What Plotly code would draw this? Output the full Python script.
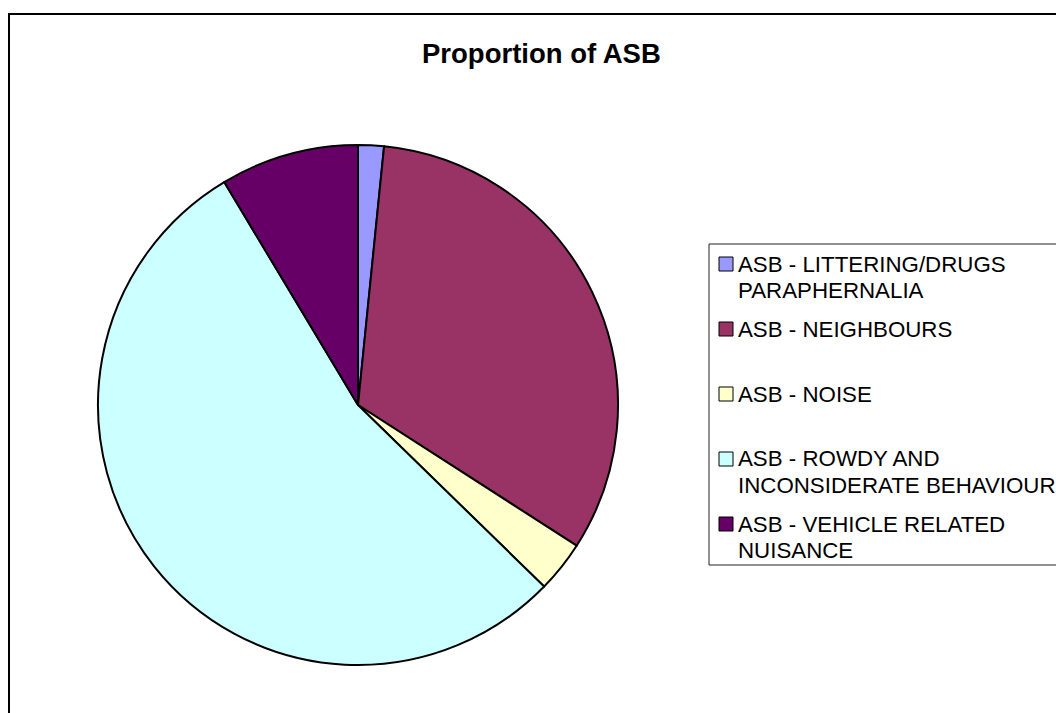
import plotly.graph_objects as go

# Share of anti-social behaviour reports by type (%)
labels = [
    "ASB - LITTERING/DRUGS<br>PARAPHERNALIA",
    "ASB - NEIGHBOURS",
    "ASB - NOISE",
    "ASB - ROWDY AND<br>INCONSIDERATE BEHAVIOUR",
    "ASB - VEHICLE RELATED<br>NUISANCE",
]
values = [1.6, 32.5, 3.2, 54.1, 8.6]
colors = ["#9999FF", "#993366", "#FFFFCC", "#CCFFFF", "#660066"]

W, H = 1056, 713
FONT = "Liberation Sans, Arial, sans-serif"


def px_x(x):
    return x / W


def px_y(y):
    return 1 - y / H


# pie centre and radius in pixels
cx, cy, r = 358, 405, 260

fig = go.Figure(
    go.Pie(
        labels=[lab.replace("<br>", " ") for lab in labels],
        values=values,
        marker=dict(colors=colors, line=dict(color="#000000", width=2)),
        sort=False,
        direction="clockwise",
        rotation=0,
        textinfo="none",
        showlegend=False,
        domain=dict(x=[px_x(cx - r), px_x(cx + r)], y=[px_y(cy + r), px_y(cy - r)]),
    )
)

shapes = [
    # outer chart frame
    dict(type="rect", xref="paper", yref="paper",
         x0=px_x(9), x1=px_x(W + 20), y0=px_y(H + 20), y1=px_y(14),
         line=dict(color="#000000", width=2), fillcolor="rgba(0,0,0,0)"),
    # legend box
    dict(type="rect", xref="paper", yref="paper",
         x0=px_x(709), x1=px_x(W + 20), y0=px_y(565), y1=px_y(244),
         line=dict(color="#222222", width=1), fillcolor="rgba(0,0,0,0)"),
]

annotations = []
first_line = 264
slot = 65
line_gap = 26.5
for i, (lab, col) in enumerate(zip(labels, colors)):
    yc = first_line + i * slot
    shapes.append(dict(type="rect", xref="paper", yref="paper",
                       x0=px_x(719), x1=px_x(733), y0=px_y(yc + 7), y1=px_y(yc - 7),
                       line=dict(color="#000000", width=1), fillcolor=col))
    for j, part in enumerate(lab.split("<br>")):
        annotations.append(dict(
            text=part, xref="paper", yref="paper",
            x=px_x(736), y=px_y(yc + j * line_gap),
            xanchor="left", yanchor="middle", showarrow=False,
            font=dict(family=FONT, size=22.3, color="#000000"),
        ))

annotations.append(dict(
    text="<b>Proportion of ASB</b>", xref="paper", yref="paper",
    x=px_x(541.5), y=px_y(54), xanchor="center", yanchor="middle",
    showarrow=False, font=dict(family=FONT, size=27.5, color="#000000"),
))

fig.update_layout(
    width=W, height=H,
    margin=dict(l=0, r=0, t=0, b=0),
    paper_bgcolor="#FFFFFF",
    plot_bgcolor="#FFFFFF",
    shapes=shapes,
    annotations=annotations,
    showlegend=False,
)

fig.write_html("out.html")
